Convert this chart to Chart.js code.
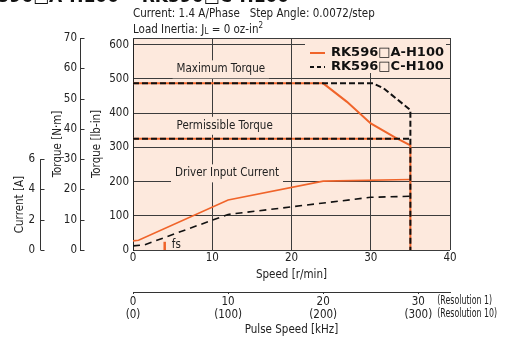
<!DOCTYPE html>
<html><head><meta charset="utf-8">
<script src="https://cdn.jsdelivr.net/npm/chart.js@4.4.1/dist/chart.umd.min.js"></script>
<style>html,body{margin:0;padding:0;background:#fff}#wrap{width:507px;height:341px;position:relative}canvas{display:block}</style>
</head><body><div id="wrap"><canvas id="c" width="507" height="341"></canvas></div>
<script>
// ---------- data ----------
const seriesNames = ['RK596\u25A1A-H100', 'RK596\u25A1C-H100'];
// Torque [lb-in] vs speed [r/min]
const speedA = [0, 24, 27, 30, 33, 35, 35];
const torqueA = [487, 487, 433, 370, 330, 306, 0];
const speedC = [0, 30.3, 31.6, 35, 35];
const torqueC = [487, 487, 473, 409, 0];
const permSpeedA = [0, 33.3];
const permTorqueA = [325, 325];
const permSpeedC = [0, 35];
const permTorqueC = [325, 325];
// Driver input current [A]
const curSpeedA = [0, 0.7, 12, 24, 35];
const currentA = [0.6, 0.64, 3.3, 4.55, 4.66];
const curSpeedC = [0, 1.5, 12, 20, 30, 35];
const currentC = [0.27, 0.35, 2.35, 2.85, 3.48, 3.55];
// fs marker
const fsSpeed = [4, 4];
const fsTorque = [0, 24];
// ticks
const speedTicks = [0, 10, 20, 30, 40];
const pulseTicks = [0, 10, 20, 30];
const pulseTicksRes10 = ['(0)', '(100)', '(200)', '(300)'];
const lbinTicks = [0, 100, 200, 300, 400, 500, 600];
const nmTicks = [0, 10, 20, 30, 40, 50, 60, 70];
const ampTicks = [0, 2, 4, 6];
// unit relations
const LBIN_PER_NM = 8.851;
const NM_PER_A = 5;
const RPM_PER_KHZ = 1.2;

// ---------- style ----------
const FONT = "'DejaVu Sans Condensed','Liberation Sans Narrow',sans-serif";
const FS = 11.5;
const BOLD = "'DejaVu Sans',Verdana,sans-serif";
const TXT = '#222';
const GRID = '#3c3c3c';
const ORANGE = '#f0642a';
const PINK = '#fde9dd';
const fnt = {family: FONT, size: FS};

const pts = (xs, ys) => xs.map((x, i) => ({x, y: ys[i]}));
const notes = [
  {text: 'Maximum Torque', x: 5.5, y: 528, box: true},
  {text: 'Permissible Torque', x: 5.5, y: 363, box: true},
  {text: 'Driver Input Current', x: 5.3, y: 224, box: true},
  {text: 'fs', x: 4.9, y: 15, box: false}
];

const blackDash = {borderColor: '#111', borderDash: [6, 3], borderWidth: 2, order: 0};
const blackDashThin = {borderColor: '#111', borderDash: [7, 5], borderWidth: 1.6, order: 0};
const orangeLine = {borderColor: ORANGE, borderWidth: 2, order: 1};

const decor = {
  id: 'decor',
  beforeDraw(chart) {
    const {ctx, chartArea: a} = chart;
    ctx.save();
    ctx.fillStyle = PINK;
    ctx.fillRect(a.left, a.top, a.right - a.left, a.bottom - a.top);
    ctx.restore();
  },
  beforeDatasetsDraw(chart) {
    const {ctx, chartArea: a, scales} = chart;
    ctx.save();
    ctx.strokeStyle = GRID; ctx.lineWidth = 1;
    ctx.beginPath(); ctx.moveTo(a.left, Math.round(a.top) + 0.5); ctx.lineTo(a.right, Math.round(a.top) + 0.5); ctx.stroke();
    ctx.font = FS + 'px ' + FONT; ctx.textBaseline = 'middle'; ctx.textAlign = 'left';
    notes.forEach(n => {
      const px = scales.x.getPixelForValue(n.x), py = scales.y.getPixelForValue(n.y);
      const w = ctx.measureText(n.text).width;
      if (n.box) { ctx.fillStyle = PINK; ctx.fillRect(px - 4, py - 9, w + 8, 18); }
      ctx.fillStyle = TXT; ctx.fillText(n.text, px, py);
    });
    const L = a.right - 145, T = a.top + 1;
    ctx.fillStyle = PINK; ctx.fillRect(L, T, 141, 34);
    const rows = [{c: ORANGE, d: [], y: T + 14}, {c: '#111', d: [4, 3], y: T + 28}];
    ctx.font = 'bold 13px ' + BOLD;
    rows.forEach((r, i) => {
      ctx.strokeStyle = r.c; ctx.lineWidth = 2; ctx.setLineDash(r.d);
      ctx.beginPath(); ctx.moveTo(L + 5, r.y); ctx.lineTo(L + 20, r.y); ctx.stroke();
      ctx.setLineDash([]);
      ctx.fillStyle = '#111'; ctx.fillText(seriesNames[i], L + 26, r.y);
    });
    ctx.restore();
  },
  afterDraw(chart) {
    const {ctx, chartArea: a, scales} = chart;
    ctx.save();
    ctx.strokeStyle = '#333'; ctx.lineWidth = 1;
    const yA = scales.yA, yN = scales.yN;
    const xr = Math.round(yA.right) + 0.5;
    ctx.beginPath(); ctx.moveTo(xr, yA.getPixelForValue(0)); ctx.lineTo(xr, yA.getPixelForValue(ampTicks[ampTicks.length - 1])); ctx.stroke();
    ampTicks.forEach(v => { const p = Math.round(yA.getPixelForValue(v)) + 0.5; ctx.beginPath(); ctx.moveTo(xr, p); ctx.lineTo(xr + 4, p); ctx.stroke(); });
    const xn = Math.round(yN.right) + 0.5;
    nmTicks.forEach(v => { const p = Math.round(yN.getPixelForValue(v)) + 0.5; ctx.beginPath(); ctx.moveTo(xn, p); ctx.lineTo(xn + 4, p); ctx.stroke(); });
    ctx.fillStyle = TXT; ctx.font = FS + 'px ' + FONT; ctx.textAlign = 'center'; ctx.textBaseline = 'middle';
    ctx.save();
    ctx.translate(yA.left + 20, (yA.getPixelForValue(0) + yA.getPixelForValue(6)) / 2);
    ctx.rotate(-Math.PI / 2); ctx.fillText('Current [A]', 0, 0);
    ctx.restore();
    // resolution notes (condensed)
    const xp = scales.xp;
    ctx.textAlign = 'left';
    ctx.font = '12.5px ' + FONT;
    const rx = xp.getPixelForValue(30) + 19;
    [['(Resolution 1)', 9], ['(Resolution 10)', 22]].forEach(([t, dy]) => {
      ctx.save(); ctx.translate(rx, xp.top + dy); ctx.scale(0.7, 1); ctx.fillText(t, 0, 0); ctx.restore();
    });
    // header
    ctx.font = FS + 'px ' + FONT;
    ctx.fillText('Current: 1.4 A/Phase   Step Angle: 0.0072/step', a.left, 14);
    let x = a.left;
    const seg = (t, size, dy) => { ctx.font = size + 'px ' + FONT; ctx.fillText(t, x, 30 + dy); x += ctx.measureText(t).width; };
    seg('Load Inertia: J', FS, 0); seg('L', 8, 2); seg(' = 0 oz-in', FS, 0); seg('2', 8, -4);
    // cut-off title at top
    ctx.font = 'bold 17px ' + BOLD; ctx.textBaseline = 'alphabetic'; ctx.fillStyle = '#111';
    const w0 = ctx.measureText('RK596').width;
    ctx.fillText('RK596\u25A1A-H100 \u2022 RK596\u25A1C-H100', 33 - w0, 2);
    ctx.restore();
  }
};

new Chart(document.getElementById('c'), {
  type: 'line',
  data: {
    datasets: [
      Object.assign({label: seriesNames[1], data: pts(speedC, torqueC), yAxisID: 'y'}, blackDash),
      Object.assign({label: seriesNames[1] + ' perm', data: pts(permSpeedC, permTorqueC), yAxisID: 'y'}, blackDash),
      Object.assign({label: seriesNames[1] + ' current', data: pts(curSpeedC, currentC), yAxisID: 'yA'}, blackDashThin),
      Object.assign({label: seriesNames[0], data: pts(speedA, torqueA), yAxisID: 'y'}, orangeLine),
      Object.assign({label: seriesNames[0] + ' perm', data: pts(permSpeedA, permTorqueA), yAxisID: 'y'}, orangeLine),
      Object.assign({label: seriesNames[0] + ' current', data: pts(curSpeedA, currentA), yAxisID: 'yA'}, orangeLine, {borderWidth: 1.6}),
      Object.assign({label: 'fs', data: pts(fsSpeed, fsTorque), yAxisID: 'y'}, orangeLine, {borderWidth: 2.5})
    ]
  },
  options: {
    responsive: false, animation: false, devicePixelRatio: 1,
    layout: {padding: {top: 38, right: 57, left: 0, bottom: 0}},
    elements: {point: {radius: 0}, line: {tension: 0, fill: false, borderCapStyle: 'butt'}},
    plugins: {legend: {display: false}, tooltip: {enabled: false}},
    scales: {
      x: {type: 'linear', position: 'bottom', min: 0, max: 40, weight: 0,
        afterBuildTicks: s => { s.ticks = speedTicks.map(v => ({value: v})); },
        ticks: {font: fnt, color: TXT, padding: 1, maxRotation: 0},
        grid: {color: GRID, drawTicks: false},
        border: {display: false},
        title: {display: true, text: 'Speed [r/min]', font: fnt, color: TXT, padding: {top: 0, bottom: 10}},
        afterFit: s => { s.height = 42; }},
      xp: {type: 'linear', position: 'bottom', min: 0, max: 40 / RPM_PER_KHZ, weight: 1,
        afterBuildTicks: s => { s.ticks = pulseTicks.map(v => ({value: v})); },
        ticks: {font: {family: FONT, size: FS, lineHeight: 1.13}, color: TXT, padding: 2, maxRotation: 0,
          callback: v => { const i = pulseTicks.indexOf(v); return [String(v), pulseTicksRes10[i]]; }},
        grid: {drawOnChartArea: false, drawTicks: true, tickLength: 2, color: '#333'},
        border: {display: true, color: '#333'},
        title: {display: true, text: 'Pulse Speed [kHz]', font: fnt, color: TXT, padding: {top: 0, bottom: 4}},
        afterFit: s => { s.height = 49; }},
      y: {type: 'linear', position: 'left', min: 0, max: 70 * LBIN_PER_NM, weight: 0,
        afterBuildTicks: s => { s.ticks = lbinTicks.map(v => ({value: v})); },
        ticks: {font: fnt, color: TXT, padding: 4},
        grid: {color: GRID, drawTicks: false},
        border: {display: true, color: '#222'},
        title: {display: true, text: 'Torque [lb-in]', font: fnt, color: TXT, padding: {top: 10, bottom: 0}},
        afterFit: s => { s.width = 53; }},
      yN: {type: 'linear', position: 'left', min: 0, max: 70, weight: 1,
        afterBuildTicks: s => { s.ticks = nmTicks.map(v => ({value: v})); },
        ticks: {font: fnt, color: TXT, padding: 3},
        grid: {drawOnChartArea: false, drawTicks: false},
        border: {display: true, color: '#333'},
        title: {display: true, text: 'Torque [N\u00B7m]', font: fnt, color: TXT, padding: {top: 11, bottom: 0}},
        afterFit: s => { s.width = 40; }},
      yA: {type: 'linear', position: 'left', min: 0, max: 70 / NM_PER_A, weight: 2,
        afterBuildTicks: s => { s.ticks = ampTicks.map(v => ({value: v})); },
        ticks: {font: fnt, color: TXT, padding: 5},
        grid: {drawOnChartArea: false, drawTicks: false},
        border: {display: false},
        title: {display: false},
        afterFit: s => { s.width = 40; }}
    }
  },
  plugins: [decor]
});
</script>
</body></html>
